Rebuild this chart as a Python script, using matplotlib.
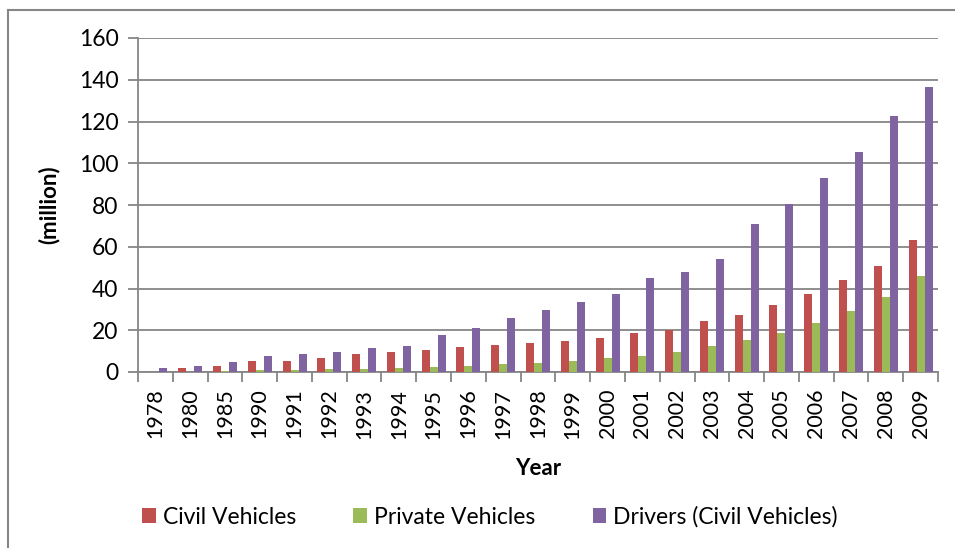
import numpy as np
import matplotlib
matplotlib.use("Agg")
import matplotlib.pyplot as plt
from matplotlib.lines import Line2D

# Data (million)
years = ['1978', '1980', '1985', '1990', '1991', '1992', '1993', '1994', '1995',
         '1996', '1997', '1998', '1999', '2000', '2001', '2002', '2003', '2004',
         '2005', '2006', '2007', '2008', '2009']
civil_vehicles = [0.0, 1.8, 2.7, 5.5, 5.5, 6.5, 8.4, 9.4, 10.3, 11.8, 12.7, 13.7,
                  14.8, 16.5, 18.6, 20.3, 24.3, 27.1, 31.9, 37.6, 44.3, 51.0, 63.3]
private_vehicles = [0.0, 0.0, 0.3, 0.8, 1.0, 1.2, 1.6, 2.0, 2.5, 2.9, 3.6, 4.2,
                    5.5, 6.5, 7.8, 9.8, 12.6, 15.5, 18.5, 23.3, 29.0, 35.7, 46.2]
drivers = [1.8, 2.7, 4.6, 7.5, 8.4, 9.4, 11.3, 12.3, 17.5, 21.3, 26.0, 29.8,
           33.7, 37.5, 45.1, 48.0, 53.9, 71.1, 80.7, 93.1, 105.3, 122.5, 136.7]

series_names = ['Civil Vehicles', 'Private Vehicles', 'Drivers (Civil Vehicles)']
series_colors = ['#C0504D', '#9BBB59', '#8064A2']

plt.rcParams['font.family'] = ['Lato', 'DejaVu Sans']

fig = plt.figure(figsize=(9.55, 5.48), dpi=100)
ax = fig.add_axes([138 / 955, (548 - 372) / 548, 800 / 955, 334 / 548])

x = np.arange(len(years))
w = 0.23
for i, (vals, name, col) in enumerate(zip([civil_vehicles, private_vehicles, drivers],
                                          series_names, series_colors)):
    ax.bar(x + (i - 1) * w, vals, width=w, color=col, label=name, zorder=3)

grey = '#868686'
ax.set_xlim(-0.5, len(years) - 0.5)
ax.set_ylim(0, 160)
ax.set_yticks(np.arange(0, 161, 20))
ax.yaxis.grid(True, color=grey, linewidth=1.3, zorder=0)
ax.set_axisbelow(True)

for s in ['top', 'right']:
    ax.spines[s].set_visible(False)
for s in ['left', 'bottom']:
    ax.spines[s].set_color(grey)
    ax.spines[s].set_linewidth(1.3)

ax.set_xticks(x)
ax.set_xticklabels(years, rotation=90, fontsize=15.5)
ax.set_xticks(np.arange(-0.5, len(years), 1), minor=True)
ax.tick_params(axis='x', which='major', length=0, pad=12)
ax.tick_params(axis='x', which='minor', length=7, color=grey, width=1.3)
ax.tick_params(axis='y', length=7, color=grey, width=1.3, labelsize=16.5, pad=7)

ax.set_xlabel('Year', fontsize=16, fontweight='bold', labelpad=14)
ax.set_ylabel('(million)', fontsize=16, fontweight='bold', labelpad=14)

ax.legend(loc='center', bbox_to_anchor=(490 / 955, 1 - 517 / 548),
          bbox_transform=fig.transFigure, ncol=3, frameon=False, fontsize=16.5,
          handlelength=0.6, handleheight=0.6, handletextpad=0.3, columnspacing=2.5)

# chart-area border (only top and left visible in reference)
fig.add_artist(Line2D([8 / 955, 8 / 955], [0, 1 - 10 / 548], color=grey, linewidth=1.5,
                      transform=fig.transFigure))
fig.add_artist(Line2D([8 / 955, 1], [1 - 10 / 548, 1 - 10 / 548], color=grey, linewidth=1.5,
                      transform=fig.transFigure))

fig.savefig('out.png', dpi=100)
